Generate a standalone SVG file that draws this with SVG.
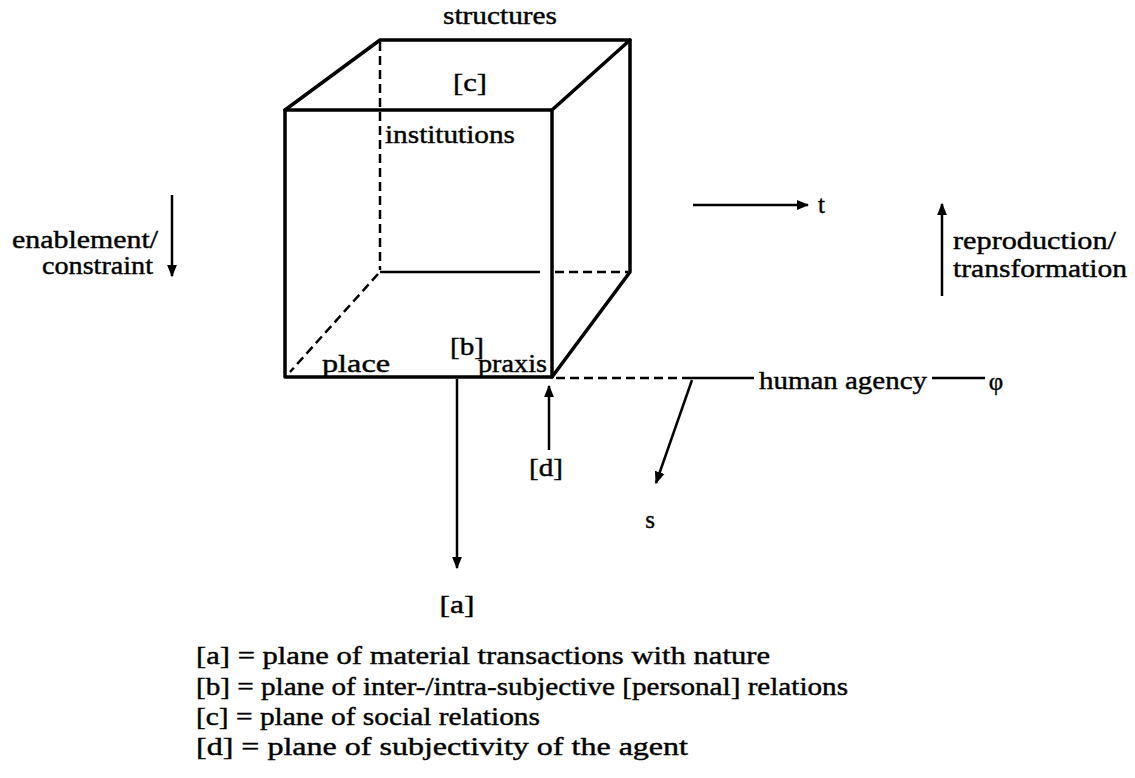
<svg xmlns="http://www.w3.org/2000/svg" width="1135" height="778" viewBox="0 0 1135 778">
<defs>
<marker id="ah" viewBox="0 0 10 10" refX="9" refY="5" markerWidth="5" markerHeight="5" orient="auto" markerUnits="strokeWidth">
<path d="M0,1 L10,5 L0,9 z" fill="#000"/>
</marker>
<style>
text{font-family:"Liberation Serif","DejaVu Serif",serif;font-size:25px;fill:#000;stroke:#000;stroke-width:0.4;}
.edge{stroke:#000;stroke-width:3.5;fill:none;stroke-linecap:round;stroke-linejoin:round;}
.dash{stroke:#000;stroke-width:2.5;fill:none;stroke-dasharray:9,5;}
.arr{stroke:#000;stroke-width:2.5;fill:none;marker-end:url(#ah);}
.ln{stroke:#000;stroke-width:2.5;fill:none;}
</style>
</defs>
<rect width="1135" height="778" fill="#fff"/>
<g id="cube">
<path class="edge" d="M285,110 L552,110 L552,377 L285,377 Z"/>
<path class="edge" d="M285,110 L380,40 L630,40 L552,110"/>
<path class="edge" d="M630,40 L630,272 L552,377"/>
<path class="ln" d="M380,272 L540,272"/>
<path class="dash" d="M555,272 L628,272"/>
<path class="dash" d="M380,42 L380,270"/>
<path class="dash" d="M378,274 L290,372"/>
</g>
<g id="labels-cube">
<text x="500" y="24" text-anchor="middle" textLength="114" lengthAdjust="spacingAndGlyphs">structures</text>
<text x="470" y="91" text-anchor="middle" textLength="34" lengthAdjust="spacingAndGlyphs">[c]</text>
<text x="385" y="143" textLength="130" lengthAdjust="spacingAndGlyphs">institutions</text>
<text x="467" y="355" text-anchor="middle" textLength="34" lengthAdjust="spacingAndGlyphs">[b]</text>
<text x="322" y="372" textLength="68" lengthAdjust="spacingAndGlyphs">place</text>
<text x="478" y="372" textLength="69" lengthAdjust="spacingAndGlyphs">praxis</text>
</g>
<g id="connectors">
<path class="arr" d="M172,195 L172,276"/>
<path class="arr" d="M693,205 L808,205"/>
<path class="arr" d="M942,296 L942,204"/>
<path class="dash" d="M556,378 L690,378"/>
<path class="ln" d="M690,378 L754,378"/>
<path class="ln" d="M932,378 L985,378"/>
<path class="arr" d="M692,380 L656,483"/>
<path class="arr" d="M549,450 L549,386"/>
<path class="arr" d="M457,379 L457,568"/>
</g>
<g id="node-enablement">
<text x="158" y="248" text-anchor="end" textLength="146" lengthAdjust="spacingAndGlyphs">enablement/</text>
<text x="153" y="274" text-anchor="end" textLength="111" lengthAdjust="spacingAndGlyphs">constraint</text>
</g>
<g id="node-t"><text x="818" y="213">t</text></g>
<g id="node-reproduction">
<text x="953" y="249" textLength="163" lengthAdjust="spacingAndGlyphs">reproduction/</text>
<text x="953" y="277" textLength="174" lengthAdjust="spacingAndGlyphs">transformation</text>
</g>
<g id="node-agency"><text x="759" y="389" textLength="168" lengthAdjust="spacingAndGlyphs">human agency</text></g>
<g id="node-phi"><text x="996" y="390" text-anchor="middle">φ</text></g>
<g id="node-s"><text x="650" y="528" text-anchor="middle">s</text></g>
<g id="node-d"><text x="546" y="476" text-anchor="middle" textLength="34" lengthAdjust="spacingAndGlyphs">[d]</text></g>
<g id="node-a"><text x="457" y="613" text-anchor="middle" textLength="35" lengthAdjust="spacingAndGlyphs">[a]</text></g>
<g id="legend">
<text x="196" y="664" textLength="574" lengthAdjust="spacingAndGlyphs">[a] = plane of material transactions with nature</text>
<text x="196" y="695" textLength="652" lengthAdjust="spacingAndGlyphs">[b] = plane of inter-/intra-subjective [personal] relations</text>
<text x="196" y="725" textLength="344" lengthAdjust="spacingAndGlyphs">[c] = plane of social relations</text>
<text x="196" y="755" textLength="492" lengthAdjust="spacingAndGlyphs">[d] = plane of subjectivity of the agent</text>
</g>
</svg>
